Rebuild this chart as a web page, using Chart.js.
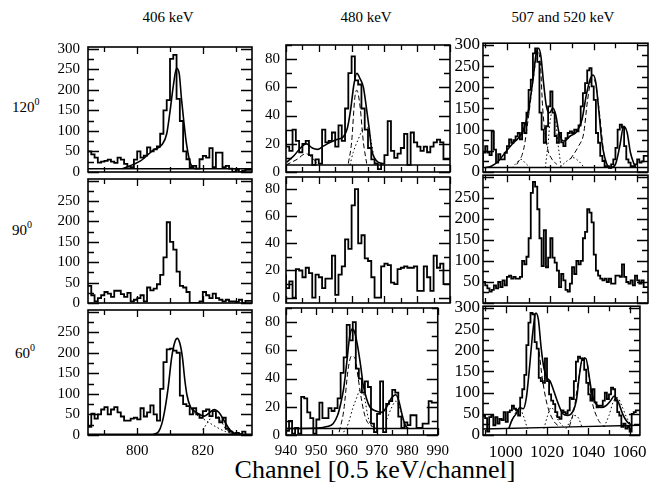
<!DOCTYPE html>
<html>
<head>
<meta charset="utf-8">
<script src="https://cdn.jsdelivr.net/npm/chart.js@4.4.0/dist/chart.umd.min.js"></script>
<style>
  body { margin: 0; width: 652px; height: 491px; background: #fff; position: relative; overflow: hidden;
         font-family: "Liberation Serif", "Times New Roman", serif; color: #000; }
  canvas { position: absolute; }
  .txt { position: absolute; white-space: nowrap; transform: translate(-50%, -50%); }
  .title { font-size: 15px; top: 17px; }
  .row { font-size: 15px; transform: translate(0, -50%); }
  .row sup { font-size: 10px; vertical-align: 7px; line-height: 0; }
  .xtitle { font-size: 26px; left: 375px; top: 470px; }
</style>
</head>
<body>
<div class="txt title" style="left:168px">406 keV</div>
<div class="txt title" style="left:366px">480 keV</div>
<div class="txt title" style="left:563px">507 and 520 keV</div>
<div class="txt row" style="left:12px; top:107px">120<sup>0</sup></div>
<div class="txt row" style="left:12px; top:230px">90<sup>0</sup></div>
<div class="txt row" style="left:15px; top:353px">60<sup>0</sup></div>
<div class="txt xtitle">Channel [0.5 keV/channel]</div>

<script>
// first channel of each histogram
const START_406 = 785;
const START_480 = 940;
const START_507 = 989;

// histograms, counts per channel (120, 90, 60 degrees)
const hist406_120 = [50,50,43,35,23,25,27,30,25,22,35,30,20,13,12,30,50,35,40,60,50,55,62,93,150,175,275,285,178,124,50,31,12,15,8,31,39,35,58,12,47,47,12,15,8,0,5,0,3,5];
const hist406_90  = [42,42,19,4,12,19,27,23,15,30,30,22,15,25,4,8,12,19,4,38,31,35,46,69,112,198,150,131,77,42,38,27,0,0,0,4,27,19,12,23,12,8,4,8,4,4,3,8,0,5];
const hist406_60  = [46,20,52,40,50,62,68,50,62,68,55,45,35,35,40,42,38,65,45,55,72,50,35,112,177,208,210,205,200,96,75,70,50,65,50,42,58,62,46,58,42,31,42,15,8,4,5,2,8,0];

const hist480_120 = [29,18,15,30,22,14,20,22,12,5,9,6,30,21,22,28,18,33,22,45,70,82,65,62,45,30,17,9,6,2,6,12,36,15,10,13,17,27,5,28,21,18,15,18,14,18,21,23,21,9];
const hist480_90  = [17,7,12,0,21,20,15,22,18,0,17,15,7,14,14,31,2,17,23,43,36,68,80,40,46,29,27,15,0,0,23,25,24,11,10,21,22,23,22,22,23,5,5,23,15,5,31,22,25,10];
const hist480_60  = [24,3,10,1,5,1,27,26,16,12,1,11,23,12,12,19,17,19,26,44,55,78,67,80,47,40,30,38,34,8,2,15,38,2,22,24,32,30,13,5,9,7,14,14,5,5,8,8,24,23];

const hist507_120 = [10,46,61,46,40,96,53,22,42,30,30,45,61,77,69,75,84,92,77,116,92,140,194,218,280,292,260,140,100,69,108,155,190,140,85,69,92,70,61,80,92,96,92,100,96,110,155,186,210,240,245,202,170,92,69,38,26,14,14,10,18,30,57,100,112,105,61,30,22,14,14,18,30,22,25,38];
const hist507_90  = [50,50,42,35,27,31,42,35,50,38,54,42,62,65,58,62,58,58,62,100,92,110,154,262,288,277,223,154,88,173,85,108,154,108,96,77,38,69,54,31,27,46,85,69,100,92,100,154,169,223,215,192,115,77,65,58,54,58,50,58,46,46,65,65,62,92,62,50,46,54,42,65,54,46,54,38];
const hist507_60  = [45,45,40,8,42,46,23,42,27,38,35,54,31,54,58,69,62,58,46,88,108,142,212,265,288,285,219,204,135,127,123,181,127,96,81,73,54,42,38,58,54,50,58,88,85,127,173,185,181,177,154,123,96,81,108,77,65,69,69,81,100,85,96,112,108,81,54,46,19,27,15,19,8,50,54,58];

// fitted curves: [channel, counts]
const fit406_120  = [[795.5,8],[801,27],[805,54],[807.5,66],[809,93],[810,147],[811,209],[812,252],[812.8,240],[813.5,178],[814.2,124],[815,70],[816,27],[816.8,12],[818,8]];
const base406_120 = [[785,8],[835,8]];

const fit406_60   = [[805,2],[806.5,8],[807.5,27],[808.5,65],[809.5,119],[810.5,188],[811.5,227],[812.2,235],[813,223],[813.8,188],[814.5,135],[815.2,96],[816.2,69],[817.5,58],[819,50],[820.5,46],[822,54],[823.5,62],[825,54],[826.5,35],[828,15],[829.5,4]];
const dot406_60a  = [[820,12],[821.5,31],[823,46],[824,50],[825.5,35],[827,15],[828.5,4]];
const dot406_60b  = [[816.5,62],[818,50],[821,35],[824,20],[827,8],[830,2]];
const base406_60  = [[785,2],[835,2]];

const fit480_120   = [[940.2,7],[942.4,11.5],[944.4,17],[946.2,20],[948,17],[949.6,16],[951.5,18.5],[953.5,21],[955.5,23],[957.5,25],[958.7,31],[959.7,44],[960.7,62],[961.6,70],[962.6,66],[963.6,60],[964.6,44],[965.4,30],[966.1,16],[967.6,8],[969.2,6]];
const dash480_120a = [[940,5],[943.4,9],[946,13],[948,10],[949.5,6]];
const dash480_120b = [[959,6],[960,21],[961,53],[961.6,58],[962.6,46],[963.6,21],[964.6,6]];
const dot480_120   = [[959.5,5],[960.5,14],[962,23],[963.6,31],[964.6,32],[965.4,28],[966,21],[967,9],[968,5]];
const base480_120  = [[940,5],[990,5]];

const fit480_60   = [[940,4.6],[950.5,5],[953.5,6],[955.5,8],[957,14],[958,22],[959,33],[960,51],[961,70],[961.8,75],[962.6,73],[963.6,63],[964.6,49],[965.4,36],[966.5,26],[967.6,20],[969.6,17],[971.6,16],[973.2,20],[974.7,26],[976.2,28.5],[977.2,24],[978.3,14],[979.3,7],[980.3,4.6]];
const dash480_60  = [[957.5,2],[959,17],[960.5,47],[961.6,56],[962.8,54],[963.8,40],[964.8,26],[965.6,17],[966.6,10],[968.6,6],[970.6,4.6]];
const dot480_60a  = [[959,2],[960.5,8],[962,19],[963.4,27],[964.4,32],[965.4,31],[966.1,24],[967,13],[968.2,6],[969.6,2]];
const dot480_60b  = [[973.2,11],[974.7,19],[976.2,24],[977.5,19],[978.7,10],[979.7,4.6]];
const base480_60  = [[940,4.6],[990,4.6]];

const fit507_120   = [[990,10],[993,14],[996.2,26],[999.2,46],[1002.3,65],[1005.4,81],[1007.7,100],[1010,147],[1012,218],[1013.5,280],[1014.6,292],[1015.7,272],[1016.9,210],[1018.2,155],[1019.7,140],[1021.2,151],[1022.5,135],[1024,93],[1026.2,73],[1029.2,85],[1032.3,96],[1034.6,124],[1036.6,182],[1038.5,221],[1039.7,229],[1041,210],[1042.3,147],[1043.8,69],[1045.8,22],[1047.7,10],[1050,18],[1052,61],[1053.8,108],[1055.4,93],[1056.9,46],[1059.2,10]];
const dash507_120a = [[1004.6,18],[1007.7,53],[1010,132],[1012.3,225],[1014.3,288],[1015.5,250],[1016.5,150],[1018.5,61],[1020.8,30],[1023,18]];
const dash507_120b = [[1029.2,30],[1033,61],[1035.4,92],[1037.2,171],[1039.2,221],[1040.8,210],[1042.8,132],[1044.6,46],[1046.5,10]];
const dot507_120a  = [[1002.3,10],[1004.6,22],[1006.5,30],[1008.5,21],[1010.8,10]];
const dot507_120b  = [[1017.7,10],[1019,69],[1020,124],[1021.2,143],[1022.5,120],[1023.5,69],[1025,10]];
const dot507_120c  = [[1024.6,12],[1027.7,26],[1030.5,34],[1033,26],[1035.4,12]];
const base507_120  = [[989,10.5],[1065,10.5]];

const fit507_60   = [[1001.5,15],[1003,35],[1005,50],[1006.9,65],[1008.5,62],[1010,88],[1011.5,158],[1013.1,242],[1014.6,288],[1015.8,273],[1017.2,204],[1018.5,158],[1020,135],[1021.5,127],[1023,108],[1024.9,81],[1027.7,50],[1030,46],[1032.3,54],[1034.2,81],[1035.7,142],[1037.2,181],[1038.8,181],[1040.3,142],[1041.8,96],[1043.8,73],[1046.2,65],[1048.5,69],[1050.8,81],[1052.6,92],[1054.6,77],[1056.6,50],[1058.8,31],[1061.2,23]];
const dash507_60a = [[1016.2,196],[1017.7,135],[1020,73],[1023,35],[1026,19]];
const dash507_60b = [[1030.8,19],[1033,58],[1035.4,135],[1037.5,183],[1039.5,170],[1041.5,88],[1044.6,38],[1047.7,20]];
const dot507_60a  = [[1001.5,15],[1003.4,38],[1005.4,58],[1006.9,62],[1008.5,46],[1010.5,15]];
const dot507_60b  = [[1018.5,15],[1020.3,46],[1022,65],[1023.4,58],[1025.4,35],[1028,19]];
const dot507_60c  = [[1029.2,15],[1031.5,35],[1033,46],[1035,42],[1036.9,19]];
const dot507_60d  = [[1047.7,19],[1050,46],[1052.3,81],[1054.2,88],[1056.2,69],[1058.5,42],[1060.8,23]];
const base507_60  = [[989,14],[1065,23]];

// axis ranges and tick labels
const xRange = [[785, 835], [940, 990], [989, 1065]];
const xLabelStep = [20, 10, 20];
const xTickStep = [10, 5, 10];
const yLabels300 = [0, 50, 100, 150, 200, 250, 300];
const yLabels250 = [0, 50, 100, 150, 200, 250];
const yLabelsMid = [50, 100, 150, 200, 250];
const yLabels80 = [0, 20, 40, 60, 80];

// page layout (pixels)
const COL_PX = [[88, 252], [286, 450], [483, 648]];
const ROW_PX = [[40, 172], [172, 303], [303, 435]];
const PAD_L = 55, PAD_R = 6, PAD_T = 10, PAD_B = 32;
const FONT = "Liberation Serif";
const FS = [15, 15, 17];
const YPAD = [8, 6, 3];

const panels = [
  { col: 0, row: 0, start: START_406, hist: hist406_120, y: [0, 304], yShow: yLabels300,
    lines: [[base406_120, 'base'], [fit406_120, 'solid']] },
  { col: 0, row: 1, start: START_406, hist: hist406_90, y: [0, 304], yShow: yLabels250, lines: [] },
  { col: 0, row: 2, start: START_406, hist: hist406_60, y: [0, 304], yShow: yLabels250,
    lines: [[base406_60, 'base'], [fit406_60, 'solid'], [dot406_60a, 'dot'], [dot406_60b, 'dot']] },
  { col: 1, row: 0, start: START_480, hist: hist480_120, y: [0, 90], yShow: yLabels80,
    lines: [[base480_120, 'base'], [fit480_120, 'solid'], [dash480_120a, 'dash'], [dash480_120b, 'dash'], [dot480_120, 'dot']] },
  { col: 1, row: 1, start: START_480, hist: hist480_90, y: [-4, 89], yShow: yLabels80, lines: [] },
  { col: 1, row: 2, start: START_480, hist: hist480_60, y: [0, 90], yShow: yLabels80,
    lines: [[base480_60, 'base'], [fit480_60, 'solid'], [dash480_60, 'dash'], [dot480_60a, 'dot'], [dot480_60b, 'dot']] },
  { col: 2, row: 0, start: START_507, hist: hist507_120, y: [0, 304], yShow: yLabels300,
    lines: [[base507_120, 'base'], [fit507_120, 'solid'], [dash507_120a, 'dash'], [dash507_120b, 'dash'],
            [dot507_120a, 'dot'], [dot507_120b, 'dot'], [dot507_120c, 'dot']] },
  { col: 2, row: 1, start: START_507, hist: hist507_90, y: [0, 304], yShow: yLabelsMid, lines: [] },
  { col: 2, row: 2, start: START_507, hist: hist507_60, y: [0, 304], yShow: yLabels300,
    lines: [[base507_60, 'base'], [fit507_60, 'solid'], [dash507_60a, 'dash'], [dash507_60b, 'dash'],
            [dot507_60a, 'dot'], [dot507_60b, 'dot'], [dot507_60c, 'dot'], [dot507_60d, 'dot']] }
];

const LINE_STYLE = {
  solid: { borderWidth: 1.6, borderDash: [] },
  base:  { borderWidth: 1.4, borderDash: [] },
  dash:  { borderWidth: 1, borderDash: [5, 3] },
  dot:   { borderWidth: 1, borderDash: [1.5, 2.5] }
};

function histPoints(start, values) {
  const pts = values.map((v, i) => ({ x: start + i, y: v }));
  pts.push({ x: start + values.length, y: values[values.length - 1] });
  return pts;
}

function curvePoints(pairs) {
  return pairs.map(p => ({ x: p[0], y: p[1] }));
}

// Frame and inward ticks on all four sides
function frameTicks(t) {
  return {
    id: 'frameTicks',
    afterDatasetsDraw(chart) {
      const { ctx, chartArea: a, scales: { x, y } } = chart;
      ctx.save();
      ctx.strokeStyle = '#000';
      ctx.lineWidth = 1.3;
      ctx.beginPath();
      for (let v = Math.ceil(x.min / t.xMinor) * t.xMinor; v <= x.max; v += t.xMinor) {
        const px = Math.round(x.getPixelForValue(v)) + 0.5;
        const len = v % t.xMajor === 0 ? 7 : 5;
        ctx.moveTo(px, a.bottom); ctx.lineTo(px, a.bottom - len);
        ctx.moveTo(px, a.top); ctx.lineTo(px, a.top + len);
      }
      for (let v = Math.ceil(y.min / t.yMinor) * t.yMinor; v <= y.max; v += t.yMinor) {
        const py = Math.round(y.getPixelForValue(v)) + 0.5;
        const len = v % t.yMajor === 0 ? 11 : 6;
        ctx.moveTo(a.left, py); ctx.lineTo(a.left + len, py);
        ctx.moveTo(a.right, py); ctx.lineTo(a.right - len, py);
      }
      ctx.stroke();
      ctx.lineWidth = 1.6;
      ctx.strokeRect(a.left, a.top, a.width, a.height);
      ctx.restore();
    }
  };
}

panels.forEach(p => {
  const [L, R] = COL_PX[p.col];
  const [T, B] = ROW_PX[p.row];
  const cv = document.createElement('canvas');
  cv.width = R - L + PAD_L + PAD_R;
  cv.height = B - T + PAD_T + PAD_B;
  cv.style.left = (L - PAD_L) + 'px';
  cv.style.top = (T - PAD_T) + 'px';
  document.body.appendChild(cv);

  const datasets = [{
    data: histPoints(p.start, p.hist),
    stepped: 'after',
    borderColor: '#000',
    borderWidth: 1.8,
    pointRadius: 0
  }];
  p.lines.forEach(([pts, kind]) => {
    datasets.push({
      data: curvePoints(pts),
      borderColor: '#000',
      borderWidth: LINE_STYLE[kind].borderWidth,
      borderDash: LINE_STYLE[kind].borderDash,
      cubicInterpolationMode: 'monotone',
      pointRadius: 0
    });
  });

  const big = p.col !== 1;
  const font = { family: FONT, size: FS[p.col] };
  const tickSet = {
    xMinor: xTickStep[p.col], xMajor: xLabelStep[p.col],
    yMinor: big ? 25 : 10, yMajor: big ? 50 : 20
  };

  new Chart(cv, {
    type: 'line',
    data: { datasets },
    options: {
      responsive: false,
      animation: false,
      devicePixelRatio: 1,
      layout: { padding: { left: 0, right: PAD_R, top: PAD_T, bottom: 0 } },
      plugins: {
        legend: { display: false },
        tooltip: { enabled: false }
      },
      scales: {
        x: {
          type: 'linear',
          min: xRange[p.col][0],
          max: xRange[p.col][1],
          grid: { display: false, drawTicks: false },
          border: { display: false },
          ticks: {
            display: p.row === 2,
            stepSize: xLabelStep[p.col],
            includeBounds: false,
            autoSkip: false,
            maxRotation: 0,
            padding: 7,
            color: '#000',
            font: font,
            callback: v => String(v)
          },
          afterFit: s => { s.height = PAD_B; }
        },
        y: {
          type: 'linear',
          min: p.y[0],
          max: p.y[1],
          grid: { display: false, drawTicks: false },
          border: { display: false },
          ticks: {
            stepSize: big ? 50 : 20,
            includeBounds: false,
            autoSkip: false,
            padding: YPAD[p.col],
            color: '#000',
            font: font,
            callback: v => p.yShow.includes(v) ? String(v) : ''
          },
          afterFit: s => { s.width = PAD_L; }
        }
      }
    },
    plugins: [frameTicks(tickSet)]
  });
});
</script>
</body>
</html>
